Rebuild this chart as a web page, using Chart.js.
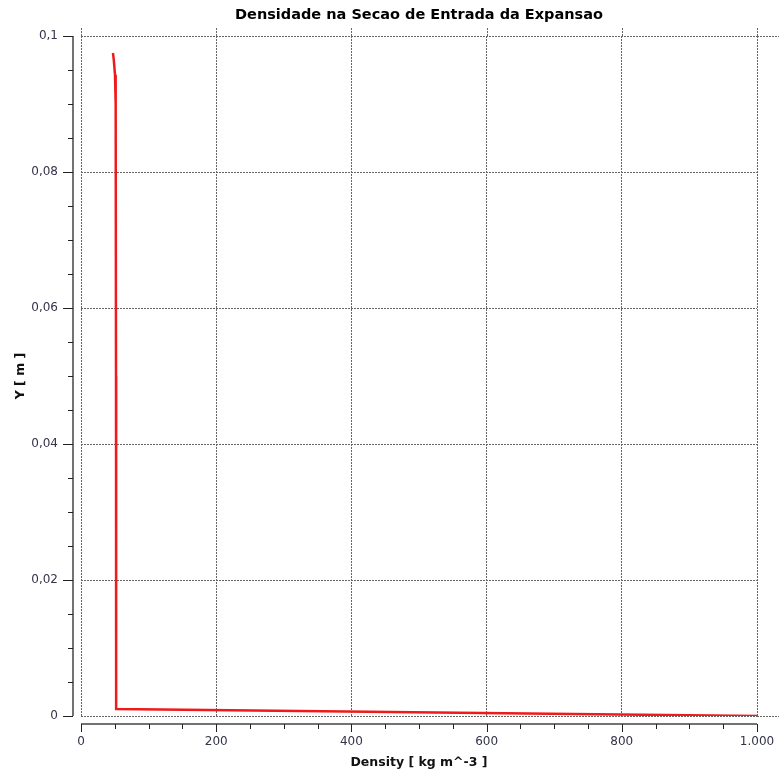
<!DOCTYPE html>
<html>
<head>
<meta charset="utf-8">
<script src="https://cdn.jsdelivr.net/npm/chart.js@4.4.1/dist/chart.umd.min.js"></script>
<style>
  html, body { margin: 0; padding: 0; background: #fff; }
  #wrap { width: 779px; height: 773px; position: relative; }
</style>
</head>
<body>
<div id="wrap"><canvas id="densityChart"></canvas></div>
<script>
// profile: density [kg m^-3] vs Y [m]
const density = [47.3, 48.5, 50.3, 51.3, 51.8, 52, 1000];
const yPos = [0.0975, 0.0965, 0.0943, 0.09, 0.05, 0.00103, 0];

const xTickLabels = ['0', '200', '400', '600', '800', '1.000'];
const yTickLabels = ['0', '0,02', '0,04', '0,06', '0,08', '0,1'];

const chartTitle = 'Densidade na Secao de Entrada da Expansao';
const xTitle = 'Density [ kg m^-3 ]';
const yTitle = 'Y [ m ]';

const FONT = '"DejaVu Sans", Verdana, sans-serif';

// solid axis lines set off from the plot, tick marks, title and grid stubs
const axesPlugin = {
  id: 'axesPlugin',
  afterDraw(chart) {
    const ctx = chart.ctx;
    const area = chart.chartArea;
    const xs = chart.scales.x;
    const ys = chart.scales.y;
    const axX = area.left - 8;
    const axY = area.bottom + 8;

    ctx.save();
    // grid stubs outside the plot
    ctx.strokeStyle = '#666';
    ctx.lineWidth = 1;
    ctx.setLineDash([2, 1]);
    ctx.beginPath();
    for (let i = 0; i <= 5; i++) {
      const px = Math.round(xs.getPixelForValue(i * 200)) + 0.5;
      ctx.moveTo(px, area.top);
      ctx.lineTo(px, area.top - 8);
    }
    [0, 0.1].forEach(v => {
      const py = Math.round(ys.getPixelForValue(v)) + 0.5;
      ctx.moveTo(area.right, py);
      ctx.lineTo(chart.width, py);
    });
    ctx.stroke();
    ctx.setLineDash([]);

    // axis lines
    ctx.strokeStyle = '#444';
    ctx.lineWidth = 1.5;
    ctx.beginPath();
    ctx.moveTo(axX, area.top);
    ctx.lineTo(axX, area.bottom);
    ctx.moveTo(area.left, axY);
    ctx.lineTo(area.right, axY);
    ctx.stroke();

    // tick marks
    ctx.lineWidth = 1;
    ctx.strokeStyle = '#222';
    ctx.beginPath();
    for (let i = 0; i <= 20; i++) {
      const px = Math.round(xs.getPixelForValue(i * 50)) + 0.5;
      ctx.moveTo(px, axY);
      ctx.lineTo(px, axY + (i % 4 === 0 ? 8 : 5));
      const py = Math.round(ys.getPixelForValue(i * 0.005)) + 0.5;
      ctx.moveTo(axX, py);
      ctx.lineTo(axX - (i % 4 === 0 ? 10 : 5), py);
    }
    ctx.stroke();

    // title
    ctx.fillStyle = '#000';
    ctx.font = 'bold 14.5px ' + FONT;
    ctx.textAlign = 'center';
    ctx.textBaseline = 'alphabetic';
    ctx.fillText(chartTitle, (area.left + area.right) / 2, 19);
    ctx.restore();
  }
};

new Chart(document.getElementById('densityChart').getContext('2d'), {
  type: 'line',
  data: {
    datasets: [{
      data: density.map((d, i) => ({ x: d, y: yPos[i] })),
      borderColor: '#f01a1a',
      borderWidth: 2.5,
      pointRadius: 0,
      tension: 0,
      fill: false
    }]
  },
  options: {
    responsive: true,
    maintainAspectRatio: false,
    animation: false,
    events: [],
    layout: { padding: { top: 36, right: 22, left: 0, bottom: 0 } },
    plugins: {
      legend: { display: false },
      title: { display: false },
      tooltip: { enabled: false }
    },
    scales: {
      x: {
        type: 'linear',
        min: 0,
        max: 1000,
        afterFit(scale) {
          scale.height = 57;
          scale.paddingLeft = 0;
          scale.paddingRight = 0;
        },
        ticks: {
          stepSize: 200,
          maxRotation: 0,
          padding: 19,
          color: '#33334a',
          font: { family: FONT, size: 12 },
          callback: (v, i) => xTickLabels[i]
        },
        grid: { color: '#666', lineWidth: 1, drawTicks: false },
        border: { display: false, dash: [2, 1] },
        title: {
          display: true,
          text: xTitle,
          color: '#111',
          font: { family: FONT, size: 12.5, weight: 'bold' },
          padding: { top: 0, bottom: 3 }
        }
      },
      y: {
        type: 'linear',
        min: 0,
        max: 0.1,
        afterFit(scale) {
          scale.width = 81;
          scale.paddingTop = 0;
          scale.paddingBottom = 0;
        },
        ticks: {
          stepSize: 0.02,
          padding: 23,
          color: '#33334a',
          font: { family: FONT, size: 12 },
          callback: (v, i) => yTickLabels[i]
        },
        grid: { color: '#666', lineWidth: 1, drawTicks: false },
        border: { display: false, dash: [2, 1] },
        title: {
          display: true,
          text: yTitle,
          color: '#111',
          font: { family: FONT, size: 12.5, weight: 'bold' },
          padding: { top: 13, bottom: 0 }
        }
      }
    }
  },
  plugins: [axesPlugin]
});
</script>
</body>
</html>
